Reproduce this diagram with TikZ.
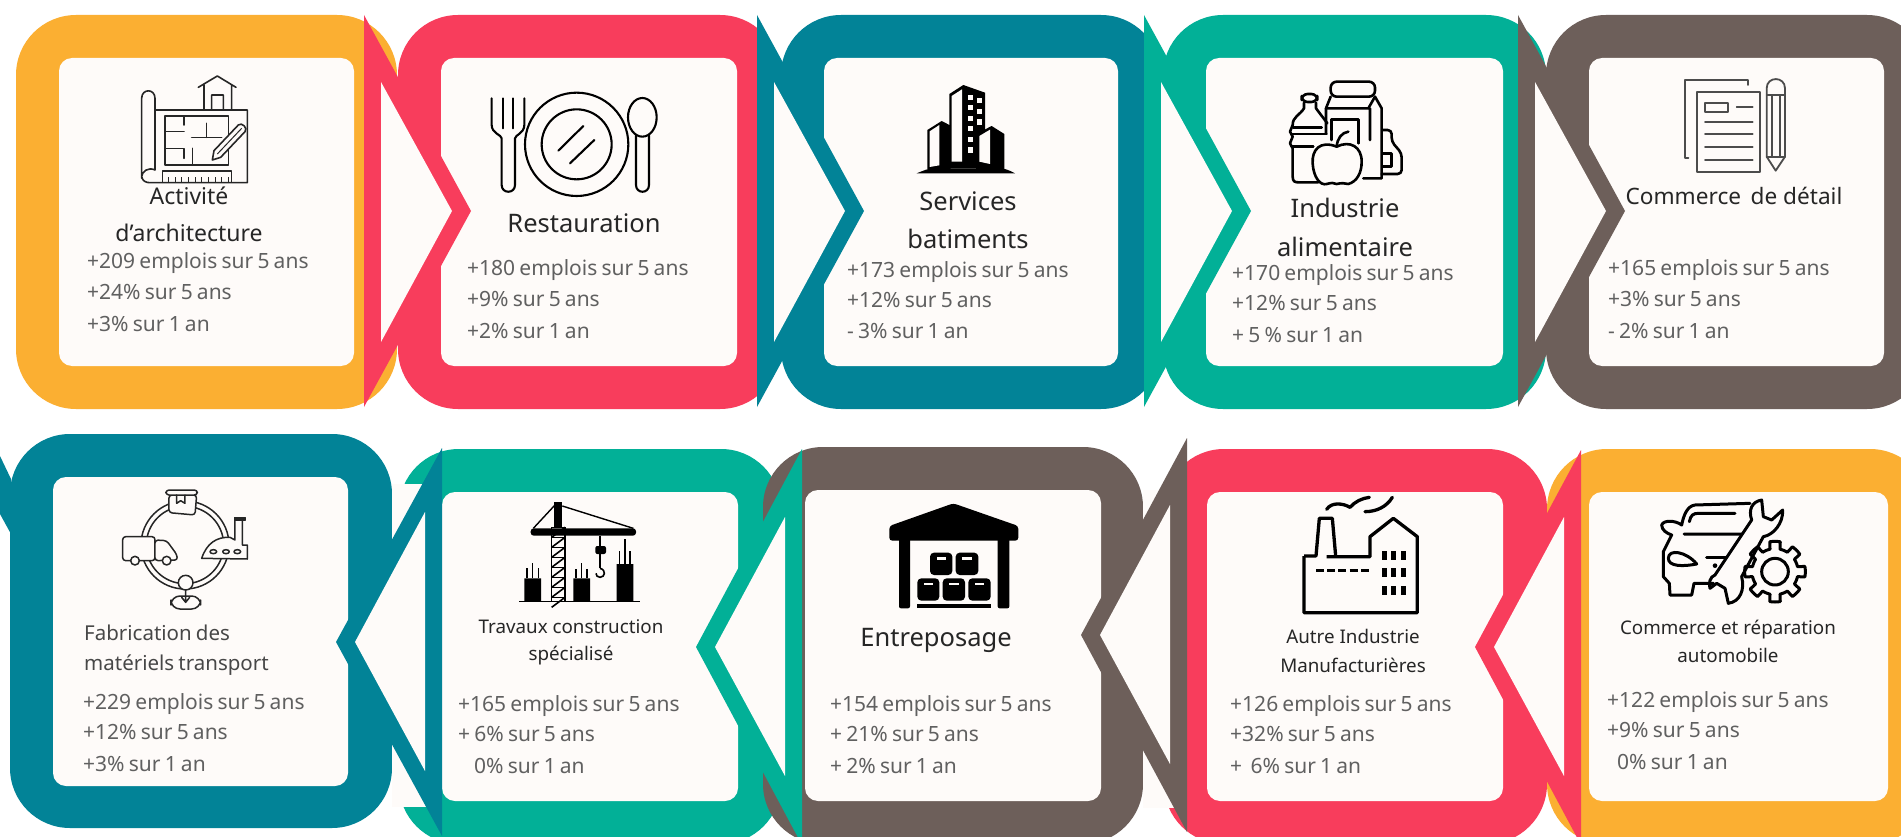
\documentclass[tikz,border=0pt]{standalone}
\usepackage{fontspec}
\setmainfont{Noto Sans}
\usetikzlibrary{calc}
\definecolor{cOr}{HTML}{FBAF32}
\definecolor{cRe}{HTML}{F83D5C}
\definecolor{cBl}{HTML}{028397}
\definecolor{cGr}{HTML}{02B097}
\definecolor{cBr}{HTML}{6D5F5A}
\definecolor{cWh}{HTML}{FEFBF9}
\definecolor{cSt}{HTML}{606060}
\definecolor{cTi}{HTML}{262626}
\newcommand{\statfont}{\fontsize{21}{22}\selectfont\spaceskip .2em\relax}
\newcommand{\fabfont}{\fontsize{20.5}{22}\selectfont\spaceskip .2em\relax}
\tikzset{
  ring/.style={rounded corners=60pt},
  panel/.style={fill=cWh,rounded corners=13pt},
  stat/.style={anchor=base west,inner sep=0pt,text=cSt,font=\statfont},
  ttl/.style={anchor=base,inner sep=0pt,text=cTi},
  big/.style={font=\fontsize{25.5}{28}\selectfont},
  mid/.style={font=\fontsize{23}{26}\selectfont},
  sml/.style={font=\fontsize{18.8}{22}\selectfont},
  ic/.style={draw=black,line width=2pt,line join=round,line cap=round},
  zoomed/.style={x=0.33333pt,y=-0.33333pt}
}
\newcommand{\cardbox}[9]{%
  \fill[#1,ring] (#2,#4) rectangle (#3,#5);
  \fill[panel] (#6,#8) rectangle (#7,#9);
}
\newcommand{\chevR}[5]{% colour, xleft, ytop, ymid, ybot
  \fill[#1] (#2,#3) -- ({#2+107},#4) -- (#2,#5) -- cycle;
  \fill[cWh] ({#2+17},{#4-129}) -- ({#2+88},#4) -- ({#2+17},{#4+131}) -- cycle;
}
\newcommand{\chevL}[5]{% colour, xright, ytop, ymid, ybot
  \fill[#1] (#2,#3) -- ({#2-106},#4) -- (#2,#5) -- cycle;
  \fill[cWh] ({#2-17},{#4-130}) -- ({#2-87},#4) -- ({#2-17},{#4+129}) -- cycle;
}
\begin{document}
\begin{tikzpicture}[x=1pt,y=-1pt]
\useasboundingbox (0,0) rectangle (1901,837);
\clip (0,0) rectangle (1901,837);
\fill[white] (0,0) rectangle (1901,837);
% cards, top row
\cardbox{cOr}{16}{397}{15}{409}{59}{354}{58}{366}
\cardbox{cRe}{398}{780}{15}{409}{441}{737}{58}{366}
\cardbox{cBl}{781}{1161}{15}{409}{824}{1118}{58}{366}
\cardbox{cGr}{1163}{1546}{15}{409}{1206}{1503}{58}{366}
\cardbox{cBr}{1546}{1927}{15}{409}{1589}{1884}{58}{366}
% cards, bottom row
\cardbox{cBl}{10}{392}{434}{828}{53}{348}{477}{786}
\cardbox{cGr}{399}{781}{449}{844}{442}{738}{492}{801}
\cardbox{cBr}{763}{1143}{447}{844}{805}{1101}{490}{801}
\cardbox{cRe}{1164}{1547}{449}{844}{1207}{1503}{492}{801}
\cardbox{cOr}{1547}{1930}{449}{844}{1589}{1888}{492}{801}
% pale patches beside the left-pointing arrows
\fill[cWh] (392,484) rectangle (432,807);
\fill[cWh] (1143,490) rectangle (1176,808);
% stub of a chevron at the left edge
\fill[cBl] (0,456) -- (11,479) -- (11,534) -- (0,514) -- cycle;
% chevrons
\chevR{cRe}{364}{15}{211}{407}
\chevR{cBl}{757}{15}{211}{407}
\chevR{cGr}{1144}{15}{211}{407}
\chevR{cBr}{1518}{15}{211}{407}
\chevL{cBl}{442}{448}{642}{836}
\chevL{cGr}{802}{449}{647}{845}
\chevL{cBr}{1187}{438}{635}{832}
\chevL{cRe}{1581}{450}{647}{845}
% icon: blueprint
\begin{scope}[zoomed]
\tikzset{ic/.append style={draw=black!85,line width=1.6pt}}
\draw[ic] (425,535) -- (425,295) .. controls (425,265) and (465,265) .. (465,295) -- (465,510) .. controls (445,500) and (425,515) .. (425,530) .. controls (428,545) and (440,548) .. (450,548) -- (742,548) -- (742,330) -- (465,330);
\draw[ic] (495,348) rectangle (685,495);
\draw[ic] (552,348)--(552,375) (495,395)--(552,395) (575,412)--(665,412) (620,370)--(620,412) (495,445)--(552,445)--(552,475) (578,445)--(578,495);
\draw[ic] (487,545)--(487,513)--(695,513)--(695,545);
\foreach \t in {505,525,...,685}{\draw[black!85,line width=.9pt] (\t,532)--(\t,545);}
\draw[ic,fill=cWh] (642,452) -- (715,375) .. controls (725,365) and (745,385) .. (735,395) -- (662,472) -- (637,480) -- cycle;
\draw[black!85,line width=1pt] (652,462)--(725,385);
\draw[ic] (595,262)--(652,228)--(708,262) (612,255)--(612,330) (695,255)--(695,330) (635,330)--(635,285)--(670,285)--(670,330);
\end{scope}
% icon: cutlery
\begin{scope}[zoomed,shift={(440pt,0pt)}]
\tikzset{ic/.append style={line width=2.1pt}}
\draw[ic] (155,295)--(155,375) .. controls (155,400) and (185,405) .. (185,415) -- (185,555) .. controls (185,582) and (225,582) .. (225,555) -- (225,415) .. controls (225,405) and (253,400) .. (253,375) -- (253,295);
\draw[ic] (188,295)--(188,385) (220,295)--(220,385);
\draw[ic] (410,433) circle[radius=155] (410,433) circle[radius=105];
\draw[ic] (355,452)--(430,378) (390,490)--(463,420);
\draw[ic] (607,352) ellipse[x radius=43,y radius=58];
\draw[ic] (588,406) -- (588,555) .. controls (588,582) and (627,582) .. (627,555) -- (627,406);
\end{scope}
% icon: buildings
\begin{scope}[zoomed,shift={(820pt,-60pt)}]
\fill[black] (290,340) .. controls (310,332) and (325,325) .. (340,325) -- (540,325) .. controls (555,325) and (570,332) .. (585,340) -- cycle;
\fill[black] (388,102) -- (430,75) -- (495,98) -- (495,325) -- (388,325) -- cycle;
\fill[cWh] (395,108) -- (426,88) -- (426,305) -- (395,305) -- cycle;
\foreach \xx/\yy in {452/112,478/122,452/143,478/154,452/175,478/186,452/206,452/238,452/270}{\fill[cWh] (\xx-7,\yy-8) rectangle (\xx+7,\yy+8);}
\fill[black] (322,210) -- (365,183) -- (392,197) -- (392,327) -- (322,327) -- cycle;
\fill[cWh] (329,214) -- (358,195) -- (358,316) -- (329,321) -- cycle;
\fill[black] (468,222) -- (515,198) -- (553,222) -- (553,327) -- (468,327) -- cycle;
\fill[cWh] (478,228) -- (510,209) -- (510,312) -- (478,305) -- cycle;
\end{scope}
% icon: food
\begin{scope}[zoomed,shift={(1100pt,0pt)}]
\tikzset{ic/.append style={line width=2.6pt}}
\draw[ic,rounded corners=6pt] (605,282) rectangle (652,306);
\draw[ic] (612,308) -- (612,325) .. controls (600,345) and (578,350) .. (578,375) -- (570,395) -- (578,410) -- (570,430) -- (578,445) -- (578,530) .. controls (578,545) and (585,547) .. (595,547) -- (655,547);
\draw[ic] (648,308) -- (648,325) -- (682,370);
\draw[ic] (580,382)--(665,382) (575,402)--(680,402) (575,440)--(640,440);
\draw[ic,rounded corners=6pt] (692,245) rectangle (825,290);
\draw[ic] (692,290) -- (678,325) -- (678,400);
\draw[ic] (825,290) -- (845,325) -- (845,535) -- (790,535);
\draw[ic] (678,325) -- (810,325) -- (810,420) (805,325) -- (825,290);
\draw[ic] (695,420) -- (695,358) -- (775,358) -- (775,430);
\draw[ic] (710,440) .. controls (660,420) and (635,450) .. (638,490) .. controls (640,530) and (660,558) .. (680,552) .. controls (695,548) and (700,548) .. (710,552) .. controls (725,548) and (735,550) .. (745,552) .. controls (770,545) and (785,520) .. (785,485) .. controls (785,440) and (750,420) .. (710,440);
\draw[ic] (710,440) .. controls (712,415) and (725,398) .. (745,395);
\draw[ic,rounded corners=4pt] (848,390) -- (875,390) -- (875,425) -- (905,460) -- (905,522) -- (845,522);
\draw[ic] (848,460) -- (875,460) -- (875,500) -- (848,500);
\end{scope}
% icon: documents
\begin{scope}[zoomed,shift={(1500pt,0pt)}]
\tikzset{ic/.append style={draw=black!70,line width=1.8pt}}
\draw[ic] (565,475)--(555,475)--(555,240)--(745,240)--(745,255);
\draw[ic] (592,277) rectangle (780,515);
\draw[ic] (615,310) rectangle (685,335);
\draw[ic] (710,322)--(758,322) (615,365)--(758,365) (615,403)--(758,403) (615,441)--(758,441) (615,480)--(758,480);
\draw[ic] (800,470) -- (800,265) .. controls (800,228) and (855,228) .. (855,265) -- (855,470) -- (827,512) -- cycle;
\draw[ic] (800,285)--(855,285) (815,285)--(815,470) (840,285)--(840,470) (800,470)--(855,470);
\end{scope}
% icon: logistics circle
\begin{scope}[zoomed,shift={(0pt,-420pt)}]
\tikzset{ic/.append style={draw=black!85,line width=1.5pt}}
\draw[ic] (555,375) circle[radius=132] (555,375) circle[radius=116];
\draw[ic,fill=cWh,rounded corners=3pt] (507,225) -- (507,278) -- (585,285) -- (590,225) -- cycle;
\draw[ic,fill=cWh,rounded corners=3pt] (498,210) rectangle (592,225);
\draw[ic] (530,225) -- (530,250) -- (542,242) -- (555,250) -- (555,225);
\draw[ic,fill=cWh,rounded corners=3pt] (368,350) rectangle (465,422);
\draw[ic,fill=cWh,rounded corners=3pt] (465,360) -- (500,362) -- (530,403) -- (533,420) -- (465,422) -- cycle;
\draw[ic,fill=cWh] (405,422) circle[radius=13] (500,422) circle[radius=13];
\draw[ic,fill=cWh] (605,415) .. controls (620,370) and (650,350) .. (690,352) -- (705,360) -- (705,295) -- (735,295) -- (727,297) -- (727,375) -- (742,375) -- (742,417) -- cycle;
\draw[ic] (703,293) rectangle (737,300);
\foreach \xx in {640,678,712}{\draw[ic] (\xx,395) ellipse[x radius=10,y radius=6];}
\draw[ic,fill=cWh] (557,488) circle[radius=22];
\draw[ic,fill=cWh,rounded corners=9pt] (513,528) rectangle (602,567);
\draw[ic] (557,510)--(557,545) (545,532)--(557,547)--(569,532);
\end{scope}
% icon: crane
\begin{scope}[zoomed,shift={(400pt,-420pt)}]
\fill[black] (463,245) rectangle (487,322);
\draw[line width=1.4pt] (400,325)--(465,255) (487,258)--(700,325);
\fill[black,rounded corners=3pt] (392,325) rectangle (708,347);
\draw[black,line width=1.6pt] (455,322)--(455,545) (495,322)--(495,545);
\foreach \t in {322,352,...,532}{\draw[black,line width=1.6pt] (455,\t+30)--(495,\t);\draw[black,line width=.9pt] (455,\t)--(495,\t);}
\draw[line width=1.3pt] (600,347)--(600,380) (600,400)--(600,445);
\fill[black,rounded corners=2pt] (586,378) rectangle (618,402);
\draw[line width=1.6pt] (600,445) .. controls (620,450) and (615,472) .. (600,472) .. controls (592,472) and (588,466) .. (588,460);
\draw[line width=1.4pt] (358,545)--(720,545);
\fill[black] (373,475) rectangle (423,545) (520,475) rectangle (570,545) (650,432) rectangle (700,545);
\draw[line width=1.4pt] (381,475)--(381,445) (398,475)--(398,428) (415,475)--(415,445) (528,475)--(528,448) (545,475)--(545,428) (561,475)--(561,448) (658,432)--(658,392) (675,432)--(675,358) (690,432)--(690,392);
\end{scope}
% icon: warehouse
\begin{scope}[zoomed,shift={(720pt,-420pt)}]
\fill[black,rounded corners=3pt] (700,250)--(895,318)--(895,362)--(508,362)--(508,318)--cycle;
\fill[black,rounded corners=2pt] (537,350) rectangle (570,565) (833,350) rectangle (868,565);
\fill[black,rounded corners=4pt] (630,398) rectangle (697,465) (707,398) rectangle (775,465) (592,475) rectangle (658,542) (668,475) rectangle (735,542) (745,475) rectangle (812,542);
\fill[black] (592,552) rectangle (812,565);
\foreach \xx/\yy in {664/415,741/415,625/492,702/492,779/492}{\fill[cWh] (\xx-14,\yy-3) rectangle (\xx+14,\yy+4);}
\end{scope}
% icon: factory
\begin{scope}[zoomed,shift={(1100pt,-420pt)}]
\tikzset{ic/.append style={line width=3.3pt}}
\draw[ic,line cap=butt] (612,408)--(648,408)--(658,295)--(697,295)--(707,408);
\draw[ic,line cap=butt] (680,410)--(810,410)--(810,350)--(880,295)--(952,350)--(952,578)--(612,578)--(612,408);
\draw[ic,line cap=butt,dash pattern=on 8pt off 3.2pt] (648,452)--(815,452);
\foreach \xx in {845,873,903}{\foreach \yy in {392,445,498}{\fill[black] (\xx,\yy) rectangle (\xx+15,\yy+27);}}
\draw[ic] (680,268) .. controls (695,245) and (730,250) .. (750,262) .. controls (765,245) and (785,235) .. (808,232);
\draw[ic] (795,275) .. controls (830,275) and (860,260) .. (877,232);
\end{scope}
% icon: car and wrench
\begin{scope}[zoomed,shift={(1500pt,-420pt)}]
\tikzset{ic/.append style={line width=3pt}}
\draw[ic] (750,250) -- (585,255) .. controls (560,258) and (550,290) .. (545,315) .. controls (525,300) and (490,300) .. (485,315) .. controls (485,330) and (500,340) .. (515,345) -- (490,395) -- (490,470) -- (508,490) -- (510,525) -- (575,525) -- (582,490) -- (640,490);
\draw[ic] (552,342)--(725,342) (568,305) .. controls (572,285) and (580,280) .. (595,280) -- (705,280);
\draw[ic] (505,415) .. controls (505,385) and (560,395) .. (590,432) .. controls (550,440) and (505,440) .. (505,415);
\draw[ic] (620,412)--(678,412);
\fill[black] (645,437) circle[radius=7];
\draw[ic] (785,240) .. controls (755,245) and (745,270) .. (755,300) -- (645,465) .. controls (630,470) and (625,490) .. (630,505) -- (650,490) -- (675,505) -- (685,550) .. controls (720,545) and (735,510) .. (725,470) -- (790,350) .. controls (820,345) and (850,310) .. (848,270) -- (815,300) -- (790,290) -- cycle;
\draw[ic] plot[samples=145,domain=0:360] ({825+(80+11*sign(cos(8*\x)))*cos(\x)},{455+(80+11*sign(cos(8*\x)))*sin(\x)}) -- cycle;
\draw[ic] (825,455) circle[radius=40];
\end{scope}
% titles
\node[ttl,mid] (t1a) at (189,205) {Activité};
\node[ttl,mid] (t1b) at (189,241) {d’architecture};
\node[ttl,big] (t2a) at (584,233) {Restauration};
\node[ttl,big] (t3a) at (968,211) {Services};
\node[ttl,big] (t3b) at (968,248) {batiments};
\node[ttl,big] (t4a) at (1345,218) {Industrie};
\node[ttl,big] (t4b) at (1345,256) {alimentaire};
\node[ttl,font=\fontsize{22.6}{26}\selectfont] (t5a) at (1734,205) {Commerce\, de détail};
\node[stat,text=cTi!85,font=\fabfont] (t6a) at (84,640) {Fabrication des};
\node[stat,text=cTi!85,font=\fabfont] (t6b) at (84,670) {matériels transport};
\node[ttl,sml] (t7a) at (571,633) {Travaux construction};
\node[ttl,sml] (t7b) at (571,660) {spécialisé};
\node[ttl,big] (t8a) at (936,646) {Entreposage};
\node[ttl,sml] (t9a) at (1353,643) {Autre Industrie};
\node[ttl,sml] (t9b) at (1353,672) {Manufacturières};
\node[ttl,sml] (t10a) at (1728,634) {Commerce et réparation};
\node[ttl,sml] (t10b) at (1728,662) {automobile};
% figures
\node[stat] (s1a) at (87,269) {+209 emplois sur 5 ans};
\node[stat] (s1b) at (87,299) {+24\% sur 5 ans};
\node[stat] (s1c) at (87,331) {+3\% sur 1 an};
\node[stat] (s2a) at (467,276) {+180 emplois sur 5 ans};
\node[stat] (s2b) at (467,306) {+9\% sur 5 ans};
\node[stat] (s2c) at (467,338) {+2\% sur 1 an};
\node[stat] (s3a) at (847,277) {+173 emplois sur 5 ans};
\node[stat] (s3b) at (847,307) {+12\% sur 5 ans};
\node[stat] (s3c) at (847,338) {- 3\% sur 1 an};
\node[stat] (s4a) at (1232,280) {+170 emplois sur 5 ans};
\node[stat] (s4b) at (1232,310) {+12\% sur 5 ans};
\node[stat] (s4c) at (1232,342) {+ 5 \% sur 1 an};
\node[stat] (s5a) at (1608,276) {+165 emplois sur 5 ans};
\node[stat] (s5b) at (1608,306) {+3\% sur 5 ans};
\node[stat] (s5c) at (1608,338) {- 2\% sur 1 an};
\node[stat] (s6a) at (83,709) {+229 emplois sur 5 ans};
\node[stat] (s6b) at (83,739) {+12\% sur 5 ans};
\node[stat] (s6c) at (83,771) {+3\% sur 1 an};
\node[stat] (s7a) at (458,711) {+165 emplois sur 5 ans};
\node[stat] (s7b) at (458,741) {+ 6\% sur 5 ans};
\node[stat] (s7c) at (474,773) {0\% sur 1 an};
\node[stat] (s8a) at (830,711) {+154 emplois sur 5 ans};
\node[stat] (s8b) at (830,741) {+ 21\% sur 5 ans};
\node[stat] (s8c) at (830,773) {+ 2\% sur 1 an};
\node[stat] (s9a) at (1230,711) {+126 emplois sur 5 ans};
\node[stat] (s9b) at (1230,741) {+32\% sur 5 ans};
\node[stat] (s9c) at (1230,773) {+\ \ 6\% sur 1 an};
\node[stat] (s10a) at (1607,707) {+122 emplois sur 5 ans};
\node[stat] (s10b) at (1607,737) {+9\% sur 5 ans};
\node[stat] (s10c) at (1617,769) {0\% sur 1 an};
\end{tikzpicture}
\end{document}
